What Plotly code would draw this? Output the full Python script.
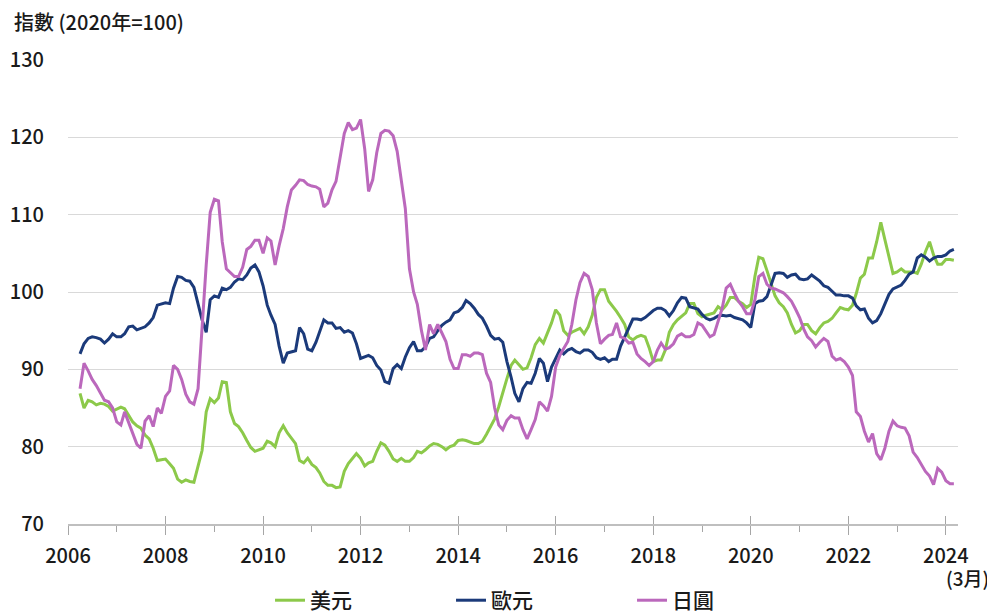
import pandas as pd
import plotly.graph_objects as go

months = pd.date_range("2006-04-01", periods=216, freq="MS")

usd = [
    86.9, 85.0, 86.0, 85.8, 85.4, 85.6, 85.5, 85.2, 84.6,
    84.8, 85.1, 84.9, 84.1, 83.2, 82.7, 82.4, 81.5, 81.0, 79.8, 78.2, 78.3,
    78.4, 77.8, 77.2, 75.8, 75.4, 75.7, 75.5, 75.4, 77.5, 79.5, 84.5, 86.2,
    85.7, 86.3, 88.4, 88.3, 84.5, 83.0, 82.6, 81.8, 80.8, 79.9, 79.4, 79.6,
    79.8, 80.7, 80.5, 80.0, 81.8, 82.7, 81.8, 81.1, 80.4, 78.2, 77.9, 78.5,
    77.7, 77.3, 76.6, 75.5, 75.0, 75.0, 74.7, 74.8, 76.8, 77.8, 78.5, 79.1,
    78.5, 77.5, 77.9, 78.1, 79.4, 80.5, 80.2, 79.4, 78.4, 78.1, 78.5, 78.1,
    78.1, 78.6, 79.4, 79.2, 79.6, 80.1, 80.4, 80.3, 80.0, 79.6, 80.0, 80.2,
    80.8, 80.9, 80.8, 80.6, 80.4, 80.4, 80.7, 81.6, 82.7, 83.6, 85.2, 87.1,
    88.8, 90.5, 91.2, 90.6, 90.0, 90.2, 91.5, 93.2, 94.0, 93.4, 94.8, 96.0,
    97.7, 97.0, 95.0, 94.4, 94.8, 95.1, 95.3, 94.6, 95.5, 97.0, 99.3, 100.3,
    100.3, 98.8, 98.2, 97.5, 96.7, 95.8, 94.2, 93.8, 94.2, 94.4, 94.2, 92.8,
    91.0, 91.2, 91.2, 92.5, 94.8, 95.8, 96.4, 96.8, 97.3, 98.5, 98.5, 97.2,
    96.8, 97.0, 97.1, 97.3, 98.1, 97.7, 98.3, 99.3, 99.3, 98.8, 98.5, 98.0,
    98.4, 102.0, 104.5, 104.3, 102.8, 101.0, 99.5, 98.6, 98.1, 97.3, 95.8, 94.7,
    95.0, 95.8, 95.8, 95.0, 94.6, 95.4, 96.0, 96.2, 96.6, 97.3, 98.0, 97.8,
    97.7, 98.3, 99.8, 101.8, 102.3, 104.4, 104.4, 106.5, 109.0, 106.8, 104.5, 102.4,
    102.6, 103.0, 102.6, 102.6, 102.6, 102.4, 103.6, 105.2, 106.5, 104.8, 103.6, 103.6,
    104.2, 104.2, 104.1,
]

eur = [
    92.0, 93.3, 94.0, 94.2, 94.1, 93.9, 93.4, 93.9, 94.6,
    94.2, 94.2, 94.6, 95.5, 95.6, 95.1, 95.3, 95.5, 96.0, 96.7, 98.3, 98.4,
    98.6, 98.5, 100.5, 102.0, 101.9, 101.5, 101.4, 100.6, 98.4, 96.4, 94.8, 99.0,
    99.5, 99.3, 100.5, 100.3, 100.6, 101.3, 101.7, 101.6, 102.2, 103.1, 103.5, 102.6,
    100.8, 98.3, 97.0, 95.8, 93.0, 90.8, 92.1, 92.3, 92.4, 95.4, 94.6, 92.6,
    92.4, 93.5, 94.9, 96.4, 96.0, 96.0, 95.3, 95.4, 94.8, 95.0, 94.7, 93.3,
    91.4, 91.6, 91.8, 91.5, 90.5, 89.9, 88.4, 88.2, 90.1, 90.6, 90.1, 91.6,
    92.8, 93.6, 92.4, 92.4, 92.9, 94.0, 94.2, 95.0, 95.7, 96.1, 96.4, 97.3,
    97.5, 98.0, 98.9, 98.5, 97.9, 97.1, 96.6, 95.6, 94.4, 93.9, 94.0, 93.5,
    91.0, 89.0, 86.9, 85.8, 87.5, 88.3, 88.2, 89.5, 91.4, 90.8, 88.4, 90.3,
    91.5, 92.5, 92.0, 92.5, 92.7, 92.3, 92.1, 92.5, 92.5, 92.2, 91.5, 91.3,
    91.5, 91.0, 91.3, 91.3, 93.0, 94.2, 95.5, 96.5, 96.5, 96.4, 96.7, 97.2,
    97.6, 97.9, 97.9, 97.6, 96.9, 97.6, 98.6, 99.3, 99.2, 98.1, 97.9, 97.8,
    97.1, 96.6, 96.4, 96.6, 96.9, 97.0, 96.9, 97.0, 96.7, 96.6, 96.4, 96.0,
    95.4, 98.5, 98.8, 98.9, 99.4, 100.9, 102.4, 102.5, 102.4, 101.9, 102.2, 102.3,
    101.7, 101.6, 101.7, 102.2, 101.8, 101.4, 100.8, 100.6, 100.1, 99.6, 99.6, 99.5,
    99.5, 99.2, 98.2, 97.7, 97.8, 96.6, 96.0, 96.3, 97.2, 98.5, 99.7, 100.4,
    100.6, 100.9, 101.5, 102.3, 102.6, 104.4, 104.8, 104.5, 104.0, 104.4, 104.6, 104.6,
    104.8, 105.3, 105.5,
]

jpy = [
    87.5, 90.8, 89.8, 88.7, 87.9, 86.9, 86.0, 85.8, 85.0,
    83.2, 82.8, 84.5, 83.0, 81.6, 80.3, 79.8, 83.3, 84.0, 82.6, 85.0, 84.3,
    86.5, 87.2, 90.5, 90.0, 88.7, 86.8, 85.8, 85.5, 87.5, 96.0, 103.5, 110.3,
    112.0, 111.8, 106.5, 103.0, 102.5, 102.0, 102.0, 103.2, 105.5, 105.9, 106.7, 106.7,
    105.0, 107.0, 106.6, 103.5, 106.0, 108.2, 111.0, 113.2, 113.8, 114.5, 114.4, 113.9,
    113.7, 113.6, 113.3, 111.0, 111.5, 113.2, 114.3, 117.3, 120.5, 121.9, 121.0, 121.2,
    122.3, 118.5, 113.0, 114.5, 118.0, 120.5, 120.9, 120.8, 120.2, 118.2, 114.5, 110.8,
    103.0, 100.0, 98.4, 95.0, 92.5, 95.8, 94.6, 95.8, 94.7, 93.6, 91.3, 90.1,
    90.1, 91.9, 91.9, 91.7, 92.1, 92.1, 91.9, 89.5, 88.3, 85.0, 82.8, 82.2,
    83.4, 84.0, 83.7, 83.7, 82.2, 81.0, 82.2, 83.5, 85.8, 85.3, 84.6, 86.5,
    90.3, 91.8, 92.7, 93.6, 95.8, 99.0, 101.2, 102.4, 102.0, 100.3, 96.0, 93.3,
    93.9, 94.4, 94.5, 96.0, 94.2, 94.0, 93.4, 93.5, 92.0, 91.4, 91.0, 90.5,
    91.0, 92.5, 93.4, 92.6, 92.8, 93.3, 94.3, 94.6, 94.2, 94.2, 94.5, 96.0,
    95.7, 94.9, 94.2, 94.5, 96.2, 97.9, 100.5, 101.0, 99.8, 98.8, 98.1, 97.2,
    97.2, 99.0, 102.0, 102.4, 101.0, 100.5, 100.4, 100.2, 99.9, 99.4, 98.8, 97.8,
    96.7, 95.2, 94.2, 93.7, 92.9, 93.5, 94.0, 93.6, 91.7, 91.2, 91.4, 91.0,
    90.3, 89.2, 84.5, 83.9, 82.0, 80.6, 81.7, 79.1, 78.3, 79.8, 82.0, 83.3,
    82.7, 82.5, 82.4, 81.4, 79.3, 78.6, 77.7, 76.8, 76.2, 75.1, 77.2, 76.7,
    75.6, 75.2, 75.2,
]

series_names = ["美元", "歐元", "日圓"]
series_colors = ["#8CC94A", "#1B3A7A", "#BB68BC"]
y_ticks = [70, 80, 90, 100, 110, 120, 130]
x_tick_years = ["2006", "2008", "2010", "2012", "2014", "2016", "2018", "2020", "2022", "2024"]

FONT = "Noto Sans CJK TC, Noto Sans, sans-serif"
TXT = "#1a1a1a"

fig = go.Figure()
for name, vals, col in zip(series_names, [usd, eur, jpy], series_colors):
    fig.add_trace(go.Scatter(x=months, y=vals, mode="lines", name=name,
                             line=dict(color=col, width=3)))

# invisible trace on overlay axis (inside half of the crossing ticks)
fig.add_trace(go.Scatter(x=[months[0]], y=[100], xaxis="x2", mode="markers",
                         marker=dict(opacity=0), showlegend=False, hoverinfo="skip"))

xr = ["2006-01-01", "2024-04-01"]
fig.update_layout(
    width=995, height=615,
    margin=dict(l=60, r=45, t=52, b=99, autoexpand=False),
    paper_bgcolor="white", plot_bgcolor="white",
    font=dict(family=FONT, size=20, color=TXT, weight=500),
    showlegend=True,
    legend=dict(orientation="h", x=0.227, xanchor="left", y=-0.165, yanchor="middle",
                entrywidth=136, entrywidthmode="pixels", itemwidth=30,
                font=dict(size=21, color=TXT, weight=500), bgcolor="rgba(0,0,0,0)"),
    xaxis=dict(type="date", range=xr, automargin=False,
               tickvals=[y + "-01-01" for y in x_tick_years], ticktext=x_tick_years,
               ticks="outside", ticklen=9, tickcolor="#A6A6A6", tickwidth=1.3,
               minor=dict(dtick="M12", tick0="2006-01-01", ticks="outside", ticklen=6,
                          tickcolor="#A6A6A6", tickwidth=1.3, showgrid=False),
               showgrid=False, showline=True, linecolor="#BFBFBF", linewidth=1.5,
               ticklabelstandoff=4, tickfont=dict(size=20, color=TXT, weight=500),
               zeroline=False),
    xaxis2=dict(type="date", range=xr, overlaying="x", anchor="y", side="bottom",
                tickvals=[y + "-01-01" for y in x_tick_years], automargin=False,
                ticks="inside", ticklen=8, tickcolor="#A6A6A6", tickwidth=1.3,
                showticklabels=False, showgrid=False, showline=False, zeroline=False),
    yaxis=dict(range=[70, 130], tickvals=y_ticks, showgrid=True, gridcolor="#D9D9D9",
               gridwidth=1.3, zeroline=False, showline=False, ticks="", automargin=False,
               ticklabelstandoff=23, tickfont=dict(size=20, color=TXT, weight=500)),
)

fig.add_annotation(text="指數 (2020年=100)", xref="paper", yref="paper",
                   x=-0.063, y=1.082, xanchor="left", yanchor="middle",
                   showarrow=False, font=dict(size=20, color=TXT, weight=500))
fig.add_annotation(text="(3月)", xref="paper", yref="paper",
                   x=1.011, y=-0.116, xanchor="center", yanchor="middle",
                   showarrow=False, font=dict(size=19, color=TXT, weight=500))

fig.write_html("out.html")
